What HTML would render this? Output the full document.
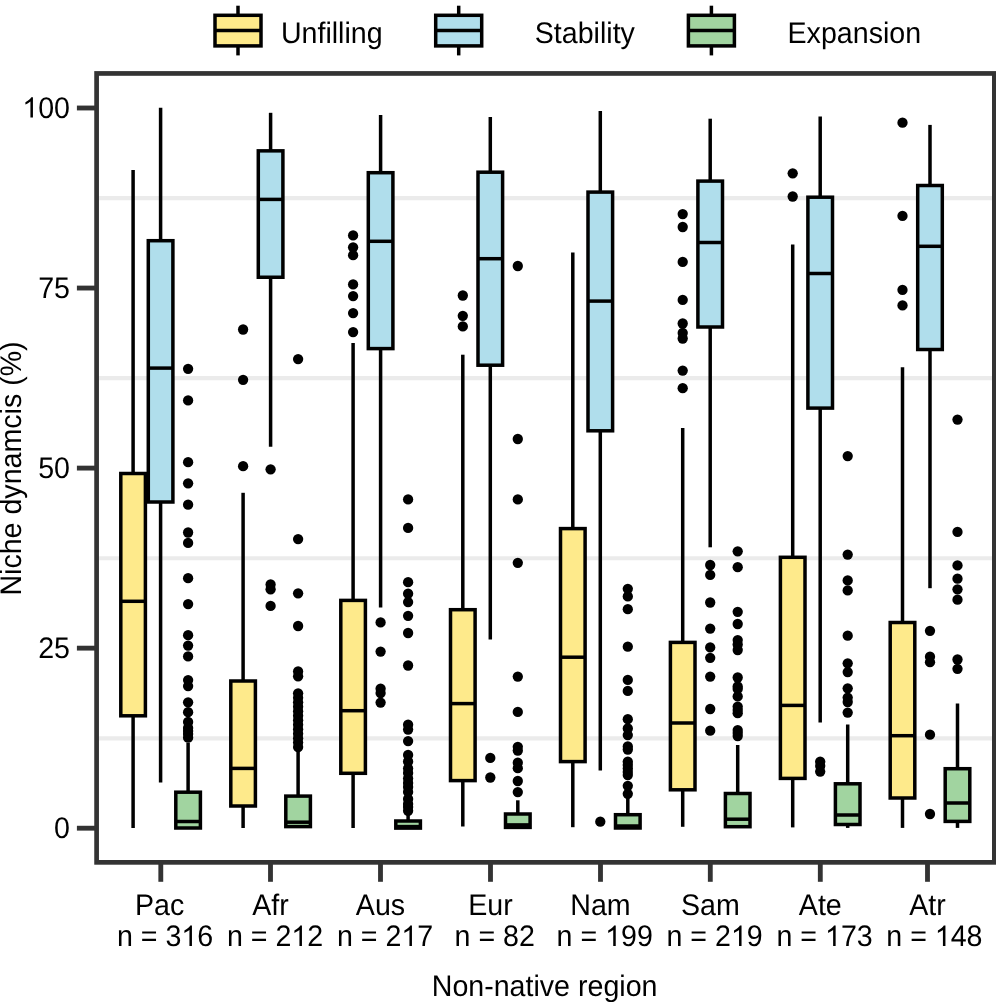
<!DOCTYPE html>
<html><head><meta charset="utf-8"><title>Niche dynamics boxplot</title><style>
html,body{margin:0;padding:0;background:#fff;overflow:hidden;}
svg{display:block;}
text{font-family:"Liberation Sans",sans-serif;font-size:28.6px;fill:#000;text-rendering:geometricPrecision;}
.tx{filter:grayscale(1);}
</style></head><body>
<svg width="996" height="1002" viewBox="0 0 996 1002">
<defs><path id="one" d="M763,0L583,0L583,1147Q518,1085 412,1023Q306,961 223,930L223,1104Q374,1175 487,1276Q600,1377 647,1466L763,1466Z"/></defs>
<rect x="0" y="0" width="996" height="1002" fill="#fff"/>
<line x1="96.6" x2="994.35" y1="738.28" y2="738.28" stroke="#EBEBEB" stroke-width="4.2"/>
<line x1="96.6" x2="994.35" y1="558.23" y2="558.23" stroke="#EBEBEB" stroke-width="4.2"/>
<line x1="96.6" x2="994.35" y1="378.18" y2="378.18" stroke="#EBEBEB" stroke-width="4.2"/>
<line x1="96.6" x2="994.35" y1="198.13" y2="198.13" stroke="#EBEBEB" stroke-width="4.2"/>
<g stroke="#000" stroke-width="3.5"><line x1="133.10" x2="133.10" y1="170" y2="473.5"/><line x1="133.10" x2="133.10" y1="715.8" y2="828"/><rect x="120.80" y="473.5" width="24.60" height="242.30" fill="#FEEA8B"/><line x1="120.80" x2="145.40" y1="601.3" y2="601.3"/></g>
<g stroke="#000" stroke-width="3.5"><line x1="160.60" x2="160.60" y1="107.7" y2="240.7"/><line x1="160.60" x2="160.60" y1="502" y2="782.6"/><rect x="148.30" y="240.7" width="24.60" height="261.30" fill="#B0DEEC"/><line x1="148.30" x2="172.90" y1="368.1" y2="368.1"/></g>
<g stroke="#000" stroke-width="3.5"><line x1="188.10" x2="188.10" y1="742.8" y2="792.2"/><rect x="175.80" y="792.2" width="24.60" height="35.80" fill="#A1D4A0"/><line x1="175.80" x2="200.40" y1="821.5" y2="821.5"/></g>
<g><circle cx="188.10" cy="368.80" r="5.15"/><circle cx="188.10" cy="400.40" r="5.15"/><circle cx="188.10" cy="462.20" r="5.15"/><circle cx="188.10" cy="483.30" r="5.15"/><circle cx="188.10" cy="504.70" r="5.15"/><circle cx="188.10" cy="532.50" r="5.15"/><circle cx="188.10" cy="542.90" r="5.15"/><circle cx="188.10" cy="578.20" r="5.15"/><circle cx="188.10" cy="604.10" r="5.15"/><circle cx="188.10" cy="635.20" r="5.15"/><circle cx="188.10" cy="645.60" r="5.15"/><circle cx="188.10" cy="656.40" r="5.15"/><circle cx="188.10" cy="680.10" r="5.15"/><circle cx="188.10" cy="686.10" r="5.15"/><circle cx="188.10" cy="702.30" r="5.15"/><circle cx="188.10" cy="712.20" r="5.15"/><circle cx="188.10" cy="722.00" r="5.15"/><circle cx="188.10" cy="728.00" r="5.15"/><circle cx="188.10" cy="731.00" r="5.15"/><circle cx="188.10" cy="734.00" r="5.15"/><circle cx="188.10" cy="737.70" r="5.15"/></g>
<g stroke="#000" stroke-width="3.5"><line x1="243.10" x2="243.10" y1="492.8" y2="681"/><line x1="243.10" x2="243.10" y1="806" y2="828"/><rect x="230.80" y="681" width="24.60" height="125.00" fill="#FEEA8B"/><line x1="230.80" x2="255.40" y1="768.4" y2="768.4"/></g>
<g><circle cx="243.10" cy="329.50" r="5.15"/><circle cx="243.10" cy="379.80" r="5.15"/><circle cx="243.10" cy="466.20" r="5.15"/></g>
<g stroke="#000" stroke-width="3.5"><line x1="270.60" x2="270.60" y1="112.8" y2="150.85"/><line x1="270.60" x2="270.60" y1="277.25" y2="446.8"/><rect x="258.30" y="150.85" width="24.60" height="126.40" fill="#B0DEEC"/><line x1="258.30" x2="282.90" y1="199.4" y2="199.4"/></g>
<g><circle cx="270.60" cy="469.30" r="5.15"/><circle cx="270.60" cy="584.40" r="5.15"/><circle cx="270.60" cy="589.30" r="5.15"/><circle cx="270.60" cy="605.90" r="5.15"/></g>
<g stroke="#000" stroke-width="3.5"><line x1="298.10" x2="298.10" y1="751.7" y2="796.1"/><line x1="298.10" x2="298.10" y1="826.6" y2="828"/><rect x="285.80" y="796.1" width="24.60" height="30.50" fill="#A1D4A0"/><line x1="285.80" x2="310.40" y1="822.2" y2="822.2"/></g>
<g><circle cx="298.10" cy="359.10" r="5.15"/><circle cx="298.10" cy="539.10" r="5.15"/><circle cx="298.10" cy="593.30" r="5.15"/><circle cx="298.10" cy="626.00" r="5.15"/><circle cx="298.10" cy="671.40" r="5.15"/><circle cx="298.10" cy="676.30" r="5.15"/><circle cx="298.10" cy="693.30" r="5.15"/><circle cx="298.10" cy="697.78" r="5.15"/><circle cx="298.10" cy="702.27" r="5.15"/><circle cx="298.10" cy="706.75" r="5.15"/><circle cx="298.10" cy="711.23" r="5.15"/><circle cx="298.10" cy="715.72" r="5.15"/><circle cx="298.10" cy="720.20" r="5.15"/><circle cx="298.10" cy="724.68" r="5.15"/><circle cx="298.10" cy="729.17" r="5.15"/><circle cx="298.10" cy="733.65" r="5.15"/><circle cx="298.10" cy="738.13" r="5.15"/><circle cx="298.10" cy="742.62" r="5.15"/><circle cx="298.10" cy="747.10" r="5.15"/></g>
<g stroke="#000" stroke-width="3.5"><line x1="353.10" x2="353.10" y1="343" y2="600.4"/><line x1="353.10" x2="353.10" y1="773.3" y2="828"/><rect x="340.80" y="600.4" width="24.60" height="172.90" fill="#FEEA8B"/><line x1="340.80" x2="365.40" y1="710.7" y2="710.7"/></g>
<g><circle cx="353.10" cy="235.40" r="5.15"/><circle cx="353.10" cy="247.30" r="5.15"/><circle cx="353.10" cy="255.20" r="5.15"/><circle cx="353.10" cy="284.40" r="5.15"/><circle cx="353.10" cy="296.10" r="5.15"/><circle cx="353.10" cy="313.10" r="5.15"/><circle cx="353.10" cy="332.10" r="5.15"/></g>
<g stroke="#000" stroke-width="3.5"><line x1="380.60" x2="380.60" y1="115" y2="172.7"/><line x1="380.60" x2="380.60" y1="348.6" y2="607.4"/><rect x="368.30" y="172.7" width="24.60" height="175.90" fill="#B0DEEC"/><line x1="368.30" x2="392.90" y1="241.3" y2="241.3"/></g>
<g><circle cx="380.60" cy="622.40" r="5.15"/><circle cx="380.60" cy="651.60" r="5.15"/><circle cx="380.60" cy="688.70" r="5.15"/><circle cx="380.60" cy="693.10" r="5.15"/><circle cx="380.60" cy="702.60" r="5.15"/></g>
<g stroke="#000" stroke-width="3.5"><line x1="408.10" x2="408.10" y1="812" y2="821"/><rect x="395.80" y="821" width="24.60" height="7.10" fill="#A1D4A0"/><line x1="395.80" x2="420.40" y1="826.6" y2="826.6"/></g>
<g><circle cx="408.10" cy="499.40" r="5.15"/><circle cx="408.10" cy="527.90" r="5.15"/><circle cx="408.10" cy="582.20" r="5.15"/><circle cx="408.10" cy="593.70" r="5.15"/><circle cx="408.10" cy="602.10" r="5.15"/><circle cx="408.10" cy="615.80" r="5.15"/><circle cx="408.10" cy="633.00" r="5.15"/><circle cx="408.10" cy="665.50" r="5.15"/><circle cx="408.10" cy="724.70" r="5.15"/><circle cx="408.10" cy="729.60" r="5.15"/><circle cx="408.10" cy="741.10" r="5.15"/><circle cx="408.10" cy="755.00" r="5.15"/><circle cx="408.10" cy="761.50" r="5.15"/><circle cx="408.10" cy="768.40" r="5.15"/><circle cx="408.10" cy="773.00" r="5.15"/><circle cx="408.10" cy="778.40" r="5.15"/><circle cx="408.10" cy="782.90" r="5.15"/><circle cx="408.10" cy="787.00" r="5.15"/><circle cx="408.10" cy="791.90" r="5.15"/><circle cx="408.10" cy="798.90" r="5.15"/><circle cx="408.10" cy="803.90" r="5.15"/><circle cx="408.10" cy="807.00" r="5.15"/><circle cx="408.10" cy="810.80" r="5.15"/></g>
<g stroke="#000" stroke-width="3.5"><line x1="462.80" x2="462.80" y1="354.7" y2="609.7"/><line x1="462.80" x2="462.80" y1="780.6" y2="826.5"/><rect x="450.50" y="609.7" width="24.60" height="170.90" fill="#FEEA8B"/><line x1="450.50" x2="475.10" y1="703.6" y2="703.6"/></g>
<g><circle cx="462.80" cy="295.50" r="5.15"/><circle cx="462.80" cy="315.80" r="5.15"/><circle cx="462.80" cy="326.40" r="5.15"/></g>
<g stroke="#000" stroke-width="3.5"><line x1="490.30" x2="490.30" y1="117" y2="172.2"/><line x1="490.30" x2="490.30" y1="365.2" y2="639.6"/><rect x="478.00" y="172.2" width="24.60" height="193.00" fill="#B0DEEC"/><line x1="478.00" x2="502.60" y1="258.7" y2="258.7"/></g>
<g><circle cx="490.30" cy="757.90" r="5.15"/><circle cx="490.30" cy="777.50" r="5.15"/></g>
<g stroke="#000" stroke-width="3.5"><line x1="517.80" x2="517.80" y1="800.3" y2="814"/><line x1="517.80" x2="517.80" y1="827.4" y2="828"/><rect x="505.50" y="814" width="24.60" height="13.40" fill="#A1D4A0"/><line x1="505.50" x2="530.10" y1="824.9" y2="824.9"/></g>
<g><circle cx="517.80" cy="266.00" r="5.15"/><circle cx="517.80" cy="439.00" r="5.15"/><circle cx="517.80" cy="499.40" r="5.15"/><circle cx="517.80" cy="562.80" r="5.15"/><circle cx="517.80" cy="676.60" r="5.15"/><circle cx="517.80" cy="711.90" r="5.15"/><circle cx="517.80" cy="746.80" r="5.15"/><circle cx="517.80" cy="750.60" r="5.15"/><circle cx="517.80" cy="762.70" r="5.15"/><circle cx="517.80" cy="768.20" r="5.15"/><circle cx="517.80" cy="781.00" r="5.15"/><circle cx="517.80" cy="792.10" r="5.15"/></g>
<g stroke="#000" stroke-width="3.5"><line x1="572.80" x2="572.80" y1="252.4" y2="528.6"/><line x1="572.80" x2="572.80" y1="761.6" y2="827.2"/><rect x="560.50" y="528.6" width="24.60" height="233.00" fill="#FEEA8B"/><line x1="560.50" x2="585.10" y1="657.2" y2="657.2"/></g>
<g stroke="#000" stroke-width="3.5"><line x1="600.30" x2="600.30" y1="111" y2="192.1"/><line x1="600.30" x2="600.30" y1="430.8" y2="770.4"/><rect x="588.00" y="192.1" width="24.60" height="238.70" fill="#B0DEEC"/><line x1="588.00" x2="612.60" y1="301.1" y2="301.1"/></g>
<g><circle cx="600.30" cy="821.70" r="5.15"/></g>
<g stroke="#000" stroke-width="3.5"><line x1="627.80" x2="627.80" y1="798" y2="814.7"/><rect x="615.50" y="814.7" width="24.60" height="13.30" fill="#A1D4A0"/><line x1="615.50" x2="640.10" y1="826" y2="826"/></g>
<g><circle cx="627.80" cy="588.80" r="5.15"/><circle cx="627.80" cy="596.40" r="5.15"/><circle cx="627.80" cy="609.20" r="5.15"/><circle cx="627.80" cy="646.70" r="5.15"/><circle cx="627.80" cy="679.90" r="5.15"/><circle cx="627.80" cy="690.90" r="5.15"/><circle cx="627.80" cy="719.20" r="5.15"/><circle cx="627.80" cy="728.50" r="5.15"/><circle cx="627.80" cy="735.10" r="5.15"/><circle cx="627.80" cy="746.50" r="5.15"/><circle cx="627.80" cy="749.50" r="5.15"/><circle cx="627.80" cy="761.60" r="5.15"/><circle cx="627.80" cy="765.00" r="5.15"/><circle cx="627.80" cy="768.50" r="5.15"/><circle cx="627.80" cy="772.00" r="5.15"/><circle cx="627.80" cy="775.10" r="5.15"/><circle cx="627.80" cy="785.80" r="5.15"/><circle cx="627.80" cy="793.80" r="5.15"/></g>
<g stroke="#000" stroke-width="3.5"><line x1="682.70" x2="682.70" y1="428" y2="642.4"/><line x1="682.70" x2="682.70" y1="789.8" y2="826.8"/><rect x="670.40" y="642.4" width="24.60" height="147.40" fill="#FEEA8B"/><line x1="670.40" x2="695.00" y1="723" y2="723"/></g>
<g><circle cx="682.70" cy="214.10" r="5.15"/><circle cx="682.70" cy="227.00" r="5.15"/><circle cx="682.70" cy="261.90" r="5.15"/><circle cx="682.70" cy="299.90" r="5.15"/><circle cx="682.70" cy="323.50" r="5.15"/><circle cx="682.70" cy="333.00" r="5.15"/><circle cx="682.70" cy="338.50" r="5.15"/><circle cx="682.70" cy="370.60" r="5.15"/><circle cx="682.70" cy="388.20" r="5.15"/></g>
<g stroke="#000" stroke-width="3.5"><line x1="710.20" x2="710.20" y1="118.7" y2="181.1"/><line x1="710.20" x2="710.20" y1="327" y2="547.3"/><rect x="697.90" y="181.1" width="24.60" height="145.90" fill="#B0DEEC"/><line x1="697.90" x2="722.50" y1="242.5" y2="242.5"/></g>
<g><circle cx="710.20" cy="565.00" r="5.15"/><circle cx="710.20" cy="574.90" r="5.15"/><circle cx="710.20" cy="602.50" r="5.15"/><circle cx="710.20" cy="628.60" r="5.15"/><circle cx="710.20" cy="647.40" r="5.15"/><circle cx="710.20" cy="657.80" r="5.15"/><circle cx="710.20" cy="676.60" r="5.15"/><circle cx="710.20" cy="709.00" r="5.15"/><circle cx="710.20" cy="730.70" r="5.15"/></g>
<g stroke="#000" stroke-width="3.5"><line x1="737.70" x2="737.70" y1="745" y2="793.5"/><line x1="737.70" x2="737.70" y1="826.7" y2="828"/><rect x="725.40" y="793.5" width="24.60" height="33.20" fill="#A1D4A0"/><line x1="725.40" x2="750.00" y1="819.2" y2="819.2"/></g>
<g><circle cx="737.70" cy="551.30" r="5.15"/><circle cx="737.70" cy="567.20" r="5.15"/><circle cx="737.70" cy="611.80" r="5.15"/><circle cx="737.70" cy="624.00" r="5.15"/><circle cx="737.70" cy="640.10" r="5.15"/><circle cx="737.70" cy="644.50" r="5.15"/><circle cx="737.70" cy="650.00" r="5.15"/><circle cx="737.70" cy="677.50" r="5.15"/><circle cx="737.70" cy="686.40" r="5.15"/><circle cx="737.70" cy="688.90" r="5.15"/><circle cx="737.70" cy="696.40" r="5.15"/><circle cx="737.70" cy="706.60" r="5.15"/><circle cx="737.70" cy="710.00" r="5.15"/><circle cx="737.70" cy="713.20" r="5.15"/><circle cx="737.70" cy="730.10" r="5.15"/><circle cx="737.70" cy="733.00" r="5.15"/><circle cx="737.70" cy="736.10" r="5.15"/></g>
<g stroke="#000" stroke-width="3.5"><line x1="792.70" x2="792.70" y1="244.6" y2="557.3"/><line x1="792.70" x2="792.70" y1="778.4" y2="827.4"/><rect x="780.40" y="557.3" width="24.60" height="221.10" fill="#FEEA8B"/><line x1="780.40" x2="805.00" y1="705.4" y2="705.4"/></g>
<g><circle cx="792.70" cy="173.30" r="5.15"/><circle cx="792.70" cy="196.50" r="5.15"/></g>
<g stroke="#000" stroke-width="3.5"><line x1="820.20" x2="820.20" y1="116.5" y2="197.2"/><line x1="820.20" x2="820.20" y1="408.1" y2="722.5"/><rect x="807.90" y="197.2" width="24.60" height="210.90" fill="#B0DEEC"/><line x1="807.90" x2="832.50" y1="273.5" y2="273.5"/></g>
<g><circle cx="820.20" cy="761.60" r="5.15"/><circle cx="820.20" cy="766.00" r="5.15"/><circle cx="820.20" cy="771.60" r="5.15"/></g>
<g stroke="#000" stroke-width="3.5"><line x1="847.70" x2="847.70" y1="724.5" y2="783.8"/><line x1="847.70" x2="847.70" y1="824.5" y2="827.9"/><rect x="835.40" y="783.8" width="24.60" height="40.70" fill="#A1D4A0"/><line x1="835.40" x2="860.00" y1="815" y2="815"/></g>
<g><circle cx="847.70" cy="456.10" r="5.15"/><circle cx="847.70" cy="554.60" r="5.15"/><circle cx="847.70" cy="580.40" r="5.15"/><circle cx="847.70" cy="590.40" r="5.15"/><circle cx="847.70" cy="635.70" r="5.15"/><circle cx="847.70" cy="663.30" r="5.15"/><circle cx="847.70" cy="672.10" r="5.15"/><circle cx="847.70" cy="688.30" r="5.15"/><circle cx="847.70" cy="697.60" r="5.15"/><circle cx="847.70" cy="702.00" r="5.15"/><circle cx="847.70" cy="712.60" r="5.15"/></g>
<g stroke="#000" stroke-width="3.5"><line x1="902.50" x2="902.50" y1="367.3" y2="622.5"/><line x1="902.50" x2="902.50" y1="798" y2="827.9"/><rect x="890.20" y="622.5" width="24.60" height="175.50" fill="#FEEA8B"/><line x1="890.20" x2="914.80" y1="735.7" y2="735.7"/></g>
<g><circle cx="902.50" cy="122.70" r="5.15"/><circle cx="902.50" cy="215.90" r="5.15"/><circle cx="902.50" cy="289.90" r="5.15"/><circle cx="902.50" cy="305.40" r="5.15"/></g>
<g stroke="#000" stroke-width="3.5"><line x1="930.00" x2="930.00" y1="124.9" y2="185.5"/><line x1="930.00" x2="930.00" y1="349.5" y2="588.2"/><rect x="917.70" y="185.5" width="24.60" height="164.00" fill="#B0DEEC"/><line x1="917.70" x2="942.30" y1="246.3" y2="246.3"/></g>
<g><circle cx="930.00" cy="630.80" r="5.15"/><circle cx="930.00" cy="656.70" r="5.15"/><circle cx="930.00" cy="662.20" r="5.15"/><circle cx="930.00" cy="734.70" r="5.15"/><circle cx="930.00" cy="814.00" r="5.15"/></g>
<g stroke="#000" stroke-width="3.5"><line x1="957.50" x2="957.50" y1="703.5" y2="768.7"/><line x1="957.50" x2="957.50" y1="821.4" y2="827.9"/><rect x="945.20" y="768.7" width="24.60" height="52.70" fill="#A1D4A0"/><line x1="945.20" x2="969.80" y1="803" y2="803"/></g>
<g><circle cx="957.50" cy="419.60" r="5.15"/><circle cx="957.50" cy="531.90" r="5.15"/><circle cx="957.50" cy="565.40" r="5.15"/><circle cx="957.50" cy="578.70" r="5.15"/><circle cx="957.50" cy="589.30" r="5.15"/><circle cx="957.50" cy="599.70" r="5.15"/><circle cx="957.50" cy="659.50" r="5.15"/><circle cx="957.50" cy="668.80" r="5.15"/></g>
<rect x="96.6" y="73.45" width="897.75" height="788.90" fill="none" stroke="#333333" stroke-width="4.7"/>
<line x1="76.9" x2="96.6" y1="828.20" y2="828.20" stroke="#333333" stroke-width="4.85"/>
<line x1="76.9" x2="96.6" y1="648.15" y2="648.15" stroke="#333333" stroke-width="4.85"/>
<line x1="76.9" x2="96.6" y1="468.10" y2="468.10" stroke="#333333" stroke-width="4.85"/>
<line x1="76.9" x2="96.6" y1="288.05" y2="288.05" stroke="#333333" stroke-width="4.85"/>
<line x1="76.9" x2="96.6" y1="108.00" y2="108.00" stroke="#333333" stroke-width="4.85"/>
<line x1="160.80" x2="160.80" y1="862.35" y2="881.8" stroke="#333333" stroke-width="4.85"/>
<line x1="270.50" x2="270.50" y1="862.35" y2="881.8" stroke="#333333" stroke-width="4.85"/>
<line x1="380.50" x2="380.50" y1="862.35" y2="881.8" stroke="#333333" stroke-width="4.85"/>
<line x1="490.50" x2="490.50" y1="862.35" y2="881.8" stroke="#333333" stroke-width="4.85"/>
<line x1="600.50" x2="600.50" y1="862.35" y2="881.8" stroke="#333333" stroke-width="4.85"/>
<line x1="710.30" x2="710.30" y1="862.35" y2="881.8" stroke="#333333" stroke-width="4.85"/>
<line x1="820.30" x2="820.30" y1="862.35" y2="881.8" stroke="#333333" stroke-width="4.85"/>
<line x1="927.50" x2="927.50" y1="862.35" y2="881.8" stroke="#333333" stroke-width="4.85"/>
<g stroke="#000" stroke-width="3.5"><line x1="238" x2="238" y1="5.7" y2="15.3"/><line x1="238" x2="238" y1="45.9" y2="55.4"/><rect x="215" y="15.3" width="46" height="30.6" fill="#FEEA8B"/><line x1="215" x2="261" y1="30.6" y2="30.6"/></g>
<g stroke="#000" stroke-width="3.5"><line x1="458.7" x2="458.7" y1="5.7" y2="15.3"/><line x1="458.7" x2="458.7" y1="45.9" y2="55.4"/><rect x="435.7" y="15.3" width="46" height="30.6" fill="#B0DEEC"/><line x1="435.7" x2="481.7" y1="30.6" y2="30.6"/></g>
<g stroke="#000" stroke-width="3.5"><line x1="711.4" x2="711.4" y1="5.7" y2="15.3"/><line x1="711.4" x2="711.4" y1="45.9" y2="55.4"/><rect x="688.4" y="15.3" width="46" height="30.6" fill="#A1D4A0"/><line x1="688.4" x2="734.4" y1="30.6" y2="30.6"/></g>
<g class="tx">
<text id="t0" transform="translate(70.00,837.80) scale(1,1.04)" text-anchor="end">0</text>
<text id="t1" transform="translate(70.00,657.75) scale(1,1.04)" text-anchor="end">25</text>
<text id="t2" transform="translate(70.00,477.70) scale(1,1.04)" text-anchor="end">50</text>
<text id="t3" transform="translate(70.00,297.65) scale(1,1.04)" text-anchor="end">75</text>
<text id="t4" transform="translate(70.00,117.60) scale(1,1.04)" text-anchor="end"> 00</text>
<text id="t5" transform="translate(159.60,914.90) scale(1,1.04)" text-anchor="middle">Pac</text>
<text id="t6" transform="translate(165.00,945.90) scale(1,1.04)" text-anchor="middle">n = 3 6</text>
<text id="t7" transform="translate(270.50,914.90) scale(1,1.04)" text-anchor="middle">Afr</text>
<text id="t8" transform="translate(275.00,945.90) scale(1,1.04)" text-anchor="middle">n = 2 2</text>
<text id="t9" transform="translate(380.50,914.90) scale(1,1.04)" text-anchor="middle">Aus</text>
<text id="t10" transform="translate(385.00,945.90) scale(1,1.04)" text-anchor="middle">n = 2 7</text>
<text id="t11" transform="translate(490.50,914.90) scale(1,1.04)" text-anchor="middle">Eur</text>
<text id="t12" transform="translate(494.70,945.90) scale(1,1.04)" text-anchor="middle">n = 82</text>
<text id="t13" transform="translate(600.50,914.90) scale(1,1.04)" text-anchor="middle">Nam</text>
<text id="t14" transform="translate(604.70,945.90) scale(1,1.04)" text-anchor="middle">n =  99</text>
<text id="t15" transform="translate(710.30,914.90) scale(1,1.04)" text-anchor="middle">Sam</text>
<text id="t16" transform="translate(714.60,945.90) scale(1,1.04)" text-anchor="middle">n = 2 9</text>
<text id="t17" transform="translate(820.30,914.90) scale(1,1.04)" text-anchor="middle">Ate</text>
<text id="t18" transform="translate(824.60,945.90) scale(1,1.04)" text-anchor="middle">n =  73</text>
<text id="t19" transform="translate(927.50,914.90) scale(1,1.04)" text-anchor="middle">Atr</text>
<text id="t20" transform="translate(934.40,945.90) scale(1,1.04)" text-anchor="middle">n =  48</text>
<text id="t21" transform="translate(544.60,995.70) scale(1,1.04)" text-anchor="middle">Non-native region</text>
<text id="t22" transform="translate(21.20,468.50) rotate(-90) scale(1,1.04)" text-anchor="middle">Niche dynamcis (%)</text>
<text id="t23" transform="translate(280.90,42.90) scale(1,1.04)" text-anchor="start">Unfilling</text>
<text id="t24" transform="translate(534.80,42.90) scale(1,1.04)" text-anchor="start">Stability</text>
<text id="t25" transform="translate(787.55,42.90) scale(1,1.04)" text-anchor="start">Expansion</text>
<use href="#one" transform="translate(70.00,117.60) scale(1,1.04) translate(-47.719,0) scale(0.013965,-0.013422)"/>
<use href="#one" transform="translate(165.00,945.90) scale(1,1.04) translate(16.289,0) scale(0.013965,-0.013422)"/>
<use href="#one" transform="translate(275.00,945.90) scale(1,1.04) translate(16.289,0) scale(0.013965,-0.013422)"/>
<use href="#one" transform="translate(385.00,945.90) scale(1,1.04) translate(16.289,0) scale(0.013965,-0.013422)"/>
<use href="#one" transform="translate(604.70,945.90) scale(1,1.04) translate(0.383,0) scale(0.013965,-0.013422)"/>
<use href="#one" transform="translate(714.60,945.90) scale(1,1.04) translate(16.289,0) scale(0.013965,-0.013422)"/>
<use href="#one" transform="translate(824.60,945.90) scale(1,1.04) translate(0.383,0) scale(0.013965,-0.013422)"/>
<use href="#one" transform="translate(934.40,945.90) scale(1,1.04) translate(0.383,0) scale(0.013965,-0.013422)"/>
</g>
</svg></body></html>
